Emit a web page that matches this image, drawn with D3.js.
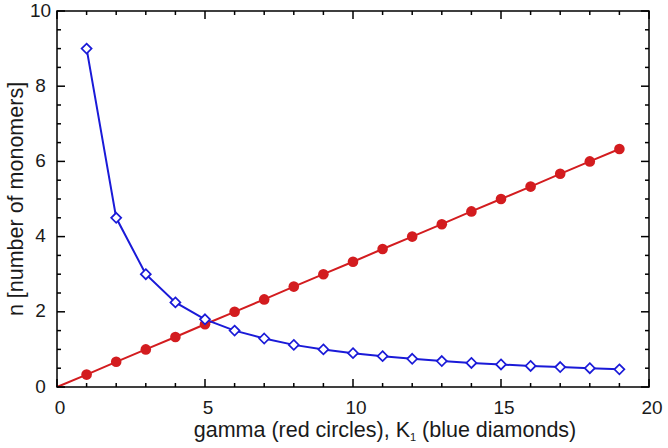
<!DOCTYPE html>
<html><head><meta charset="utf-8">
<script src="https://cdn.jsdelivr.net/npm/d3@7"></script>
<style>body{margin:0;background:#fff}svg{display:block}</style>
</head><body>
<script>
const xValues = [1,2,3,4,5,6,7,8,9,10,11,12,13,14,15,16,17,18,19];
const gammaN = [0.33,0.67,1.0,1.33,1.67,2.0,2.33,2.67,3.0,3.33,3.67,4.0,4.33,4.67,5.0,5.33,5.67,6.0,6.33];
const k1N = [9.0,4.5,3.0,2.25,1.8,1.5,1.29,1.12,1.0,0.9,0.82,0.75,0.69,0.64,0.6,0.56,0.53,0.5,0.47];
const xTicks = [0,5,10,15,20];
const yTicks = [0,2,4,6,8,10];

const W=668,H=448;
const L=57,R=649,T=11,B=387;
const svg=d3.select("body").append("svg").attr("width",W).attr("height",H);
const x=d3.scaleLinear().domain([0,20]).range([L,R]);
const y=d3.scaleLinear().domain([0,10]).range([B,T]);
const font="Liberation Sans, Arial, Helvetica, sans-serif";
const txt="#1a1a1a";

const red="#d31c1f", blue="#1a1ad8";

// lines
const line=d3.line().x(d=>x(d[0])).y(d=>y(d[1]));
svg.append("path").datum([[0,0]].concat(xValues.map((v,i)=>[v,gammaN[i]])))
  .attr("d",line).attr("fill","none").attr("stroke",red).attr("stroke-width",2);
svg.append("path").datum(xValues.map((v,i)=>[v,k1N[i]]))
  .attr("d",line).attr("fill","none").attr("stroke",blue).attr("stroke-width",2);

svg.append("g").selectAll("circle").data(xValues).join("circle")
  .attr("cx",d=>x(d)).attr("cy",(d,i)=>y(gammaN[i])).attr("r",5.3).attr("fill",red);
svg.append("g").selectAll("path").data(xValues).join("path")
  .attr("transform",(d,i)=>`translate(${x(d)},${y(k1N[i])})`)
  .attr("d","M0,-5L5,0L0,5L-5,0Z")
  .attr("fill","#fff").attr("stroke",blue).attr("stroke-width",1.7);

// frame
svg.append("rect").attr("x",L).attr("y",T).attr("width",R-L).attr("height",B-T)
  .attr("fill","none").attr("stroke","#000").attr("stroke-width",1.5);

// ticks
const minorX=d3.range(0,21,1), minorY=d3.range(0,10.01,0.5);
const tg=svg.append("g").attr("stroke","#000").attr("stroke-width",1.5);
minorX.forEach(v=>{
  const len = v%5===0?8:4;
  tg.append("line").attr("x1",x(v)).attr("x2",x(v)).attr("y1",B).attr("y2",B-len);
  tg.append("line").attr("x1",x(v)).attr("x2",x(v)).attr("y1",T).attr("y2",T+len);
});
minorY.forEach(v=>{
  const len = (Math.abs(v%2)<1e-9)?8:4;
  tg.append("line").attr("y1",y(v)).attr("y2",y(v)).attr("x1",L).attr("x2",L+len);
  tg.append("line").attr("y1",y(v)).attr("y2",y(v)).attr("x1",R).attr("x2",R-len);
});

// tick labels
svg.append("g").selectAll("text").data(xTicks).join("text")
  .attr("x",d=>x(d)+3).attr("y",B+27).attr("text-anchor","middle").attr("fill",txt)
  .attr("font-family",font).attr("font-size",19).text(d=>d);
svg.append("g").selectAll("text").data(yTicks).join("text")
  .attr("x",40.5).attr("y",d=>y(d)+5.5).attr("text-anchor","middle").attr("fill",txt)
  .attr("font-family",font).attr("font-size",19).text(d=>d);

// axis titles
const xt=svg.append("text").attr("x",385).attr("y",437).attr("text-anchor","middle").attr("fill",txt)
  .attr("font-family",font).attr("font-size",21.5);
xt.append("tspan").text("gamma (red circles), K");
xt.append("tspan").attr("font-size",11).attr("dy",4).text("1");
xt.append("tspan").attr("dy",-4).text(" (blue diamonds)");

svg.append("text").attr("transform",`translate(23,${(T+B)/2}) rotate(-90)`)
  .attr("text-anchor","middle").attr("font-family",font).attr("font-size",21.5).attr("fill",txt)
  .text("n [number of monomers]");
</script>
</body></html>
